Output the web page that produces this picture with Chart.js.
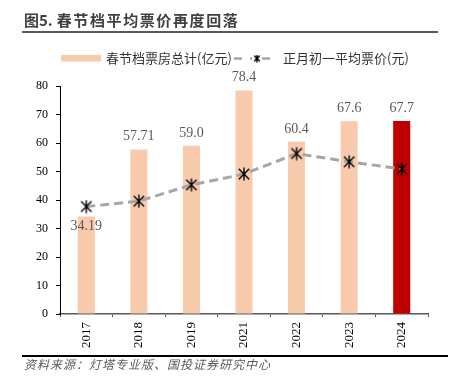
<!DOCTYPE html>
<html><head><meta charset="utf-8">
<script src="https://cdn.jsdelivr.net/npm/chart.js@4.4.1/dist/chart.umd.min.js"></script>
<style>
html,body{margin:0;padding:0;background:#fff;}
#wrap{position:relative;width:452px;height:379px;overflow:hidden;background:#fff;}
#title{position:absolute;left:24px;top:10px;font:bold 15px "Noto Sans CJK SC",sans-serif;color:#404040;white-space:nowrap;line-height:20px;}
#title .sp{letter-spacing:1.6px;margin-left:4px;}
#tline{position:absolute;left:22px;top:31px;width:416px;height:2px;background:#595959;}
#bline{position:absolute;left:22px;top:355px;width:426px;height:1.5px;background:#000;}
#src{position:absolute;left:24px;top:356px;font:italic 12px "Noto Sans CJK SC",sans-serif;letter-spacing:1px;color:#595959;white-space:nowrap;line-height:16px;}
canvas{position:absolute;left:0;top:0;}
</style></head>
<body><div id="wrap">
<canvas id="c" width="452" height="379"></canvas>
<div id="title">图5.<span class="sp">春节档平均票价再度回落</span></div>
<div id="tline"></div>
<div id="bline"></div>
<div id="src">资料来源：灯塔专业版、国投证券研究中心</div>
</div>
<script>
const years = ['2017','2018','2019','2021','2022','2023','2024'];
const boxOffice = [34.19, 57.71, 59.0, 78.4, 60.4, 67.6, 67.7];
const boxLabels = ['34.19','57.71','59.0','78.4','60.4','67.6','67.7'];
const avgPrice = [37.7, 39.6, 45.3, 49.1, 56.3, 53.4, 50.9];
const seriesNames = ['春节档票房总计(亿元)','正月初一平均票价(元)'];
const yTicks = [0,10,20,30,40,50,60,70,80];

function starImg(size, lw){
  const c = document.createElement('canvas');
  c.width = size; c.height = size;
  const g = c.getContext('2d');
  const r = size/2 - 0.5, m = size/2;
  g.strokeStyle = '#000'; g.lineWidth = lw;
  g.beginPath();
  g.moveTo(m - r*0.8, m - r*0.8); g.lineTo(m + r*0.8, m + r*0.8);
  g.moveTo(m + r*0.8, m - r*0.8); g.lineTo(m - r*0.8, m + r*0.8);
  g.moveTo(m, m - r); g.lineTo(m, m + r);
  g.stroke();
  return c;
}
const marker = starImg(14, 1.4);

const serif = '"Liberation Serif","Times New Roman",serif';
const cjk = '"Noto Sans CJK SC",sans-serif';

const labelPlugin = {
  id:'labels',
  afterDatasetsDraw(chart){
    const ctx = chart.ctx;
    const meta = chart.getDatasetMeta(0);
    ctx.save();
    ctx.font = '14px ' + serif;
    ctx.fillStyle = '#595959';
    ctx.textAlign = 'center';
    ctx.textBaseline = 'middle';
    meta.data.forEach((bar,i)=>{
      const y = i === 0 ? bar.y + 10 : bar.y - 13;
      ctx.fillText(boxLabels[i], bar.x, y);
    });
    ctx.restore();
  },
  afterDraw(chart){
    const ctx = chart.ctx;
    ctx.save();
    ctx.fillStyle = '#F8CBAD';
    ctx.fillRect(61, 55, 40, 6.5);
    ctx.font = '13px ' + cjk;
    ctx.fillStyle = '#333';
    ctx.textBaseline = 'middle';
    ctx.textAlign = 'left';
    ctx.fillText(seriesNames[0], 106, 58.5);
    ctx.strokeStyle = '#A6A6A6';
    ctx.lineWidth = 2.5;
    ctx.beginPath();
    ctx.moveTo(234, 58.5); ctx.lineTo(242, 58.5);
    ctx.moveTo(250, 58.5); ctx.lineTo(252, 58.5);
    ctx.moveTo(262, 58.5); ctx.lineTo(270, 58.5);
    ctx.stroke();
    ctx.drawImage(starImg(8, 1.6), 253, 54.5);
    ctx.fillStyle = '#333';
    ctx.fillText(seriesNames[1], 283, 58.5);
    ctx.restore();
  }
};

new Chart(document.getElementById('c'), {
  data:{
    labels: years,
    datasets:[
      {
        type:'bar', label:seriesNames[0], data:boxOffice, order:1,
        backgroundColor: ctx => ctx.dataIndex === years.length-1 ? '#C00000' : '#F8CBAD',
        barPercentage:0.325, categoryPercentage:1
      },
      {
        type:'line', label:seriesNames[1], data:avgPrice, order:0,
        borderColor:'#A6A6A6', borderWidth:3, borderDash:[9,5],
        pointStyle: marker, pointRadius:7, tension:0, fill:false
      }
    ]
  },
  options:{
    responsive:false, animation:false,
    layout:{padding:{left:20, top:86, right:24, bottom:25}},
    plugins:{legend:{display:false}, tooltip:{enabled:false}, title:{display:false}},
    scales:{
      x:{
        offset:true,
        grid:{display:true, drawOnChartArea:false, drawTicks:true, tickLength:3, offset:true, color:'#595959', lineWidth:1},
        border:{display:true, color:'#595959', width:1.5},
        ticks:{minRotation:90, maxRotation:90, padding:5, color:'#000', font:{family:serif, size:13}},
        afterFit(s){ s.height = 40; }
      },
      y:{
        min:0, max:80,
        afterBuildTicks(s){ s.ticks = yTicks.map(v=>({value:v})); },
        grid:{display:true, drawOnChartArea:false, drawTicks:true, tickLength:4, color:'#000'},
        border:{display:true, color:'#000', width:1},
        ticks:{padding:8, color:'#000', font:{family:serif, size:12}},
        afterFit(s){ s.width = 40; }
      }
    }
  },
  plugins:[labelPlugin]
});
</script>
</body></html>
